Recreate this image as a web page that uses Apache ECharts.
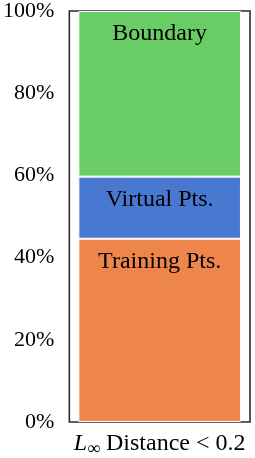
<!DOCTYPE html>
<html><head><meta charset="utf-8">
<script src="https://cdn.jsdelivr.net/npm/echarts@6/dist/echarts.min.js"></script>
<style>html,body{margin:0;padding:0;background:#fff}#c{width:255px;height:458px}</style>
</head><body><div id="c"></div>
<script>
const categories = ['L∞ Distance < 0.2'];
const seriesNames = ['Training Pts.', 'Virtual Pts.', 'Boundary'];
const trainingPts = [44.6];
const virtualPts = [15.1];
const boundaryPts = [40.3];
const yTicks = [0, 20, 40, 60, 80, 100];
const colors = ['#EE854A', '#4878D0', '#6ACC64'];
const values = [trainingPts, virtualPts, boundaryPts];
const FONT = 'Liberation Serif';
const chart = echarts.init(document.getElementById('c'), null, {renderer: 'canvas'});
chart.setOption({
  animation: false,
  backgroundColor: '#fff',
  grid: {left: 68, right: 5, top: 9, bottom: 36, show: true, borderColor: '#2a2a2a', borderWidth: 1.6, backgroundColor: '#fff'},
  xAxis: {
    type: 'category', data: categories,
    axisLine: {show: false}, axisTick: {show: false},
    axisLabel: {
      margin: 8, color: '#000', fontFamily: FONT, fontSize: 24,
      formatter: () => '{l|L}{s|∞}{t| Distance < 0.2}',
      rich: {
        l: {fontFamily: FONT, fontStyle: 'italic', fontSize: 24, color: '#000'},
        s: {fontFamily: FONT, fontSize: 18, color: '#000', padding: [10, 0, 0, 0]},
        t: {fontFamily: FONT, fontSize: 24, color: '#000'}
      }
    }
  },
  yAxis: {
    type: 'value', min: 0, max: 100, interval: 20,
    splitLine: {show: false}, axisLine: {show: false}, axisTick: {show: false},
    axisLabel: {margin: 15, color: '#000', fontFamily: FONT, fontSize: 22, padding: [3, 0, 0, 0],
      formatter: v => yTicks.includes(v) ? v + '%' : ''}
  },
  series: seriesNames.map((n, i) => ({
    name: n, type: 'bar', stack: 'a', barWidth: '90%',
    data: values[i],
    itemStyle: {color: colors[i], borderColor: '#fff', borderWidth: 1},
    label: {show: true, position: 'insideTop', distance: 11, formatter: n,
      color: '#000', fontFamily: FONT, fontSize: 24}
  }))
});
</script></body></html>
